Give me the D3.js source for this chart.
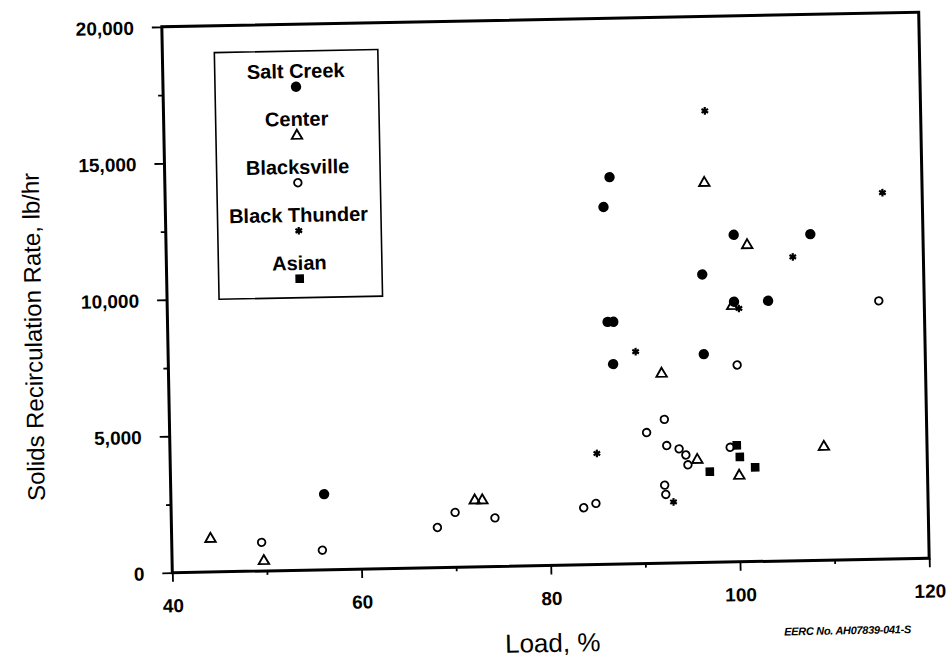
<!DOCTYPE html>
<html>
<head>
<meta charset="utf-8">
<script src="https://cdn.jsdelivr.net/npm/d3@7"></script>
<style>
  body { margin: 0; background: #fff; }
  svg { display: block; }
  text { font-family: "Liberation Sans", Arial, Helvetica, sans-serif; fill: #000; }
</style>
</head>
<body>
<svg id="chart" width="949" height="662"></svg>
<script>
// Axis ticks
const xTicks = [40, 60, 80, 100, 120];
const xMinorTicks = [50, 70, 90, 110];
const yTicks = [0, 5000, 10000, 15000, 20000];
const yMinorTicks = [2500, 7500, 12500, 17500];

// Load (%) vs. solids recirculation rate (lb/hr) by coal
const seriesNames = ["Salt Creek", "Center", "Blacksville", "Black Thunder", "Asian"];
const saltCreek = [[87.0, 14180], [86.3, 13090], [100.0, 11980], [108.1, 11950], [96.6, 10550],
  [99.9, 9530], [103.5, 9540], [86.5, 8880], [87.1, 8880], [87.0, 7330], [96.6, 7630], [56.2, 2770]];
const center = [[97.0, 13940], [101.4, 11630], [99.7, 9410], [92.1, 6980], [95.7, 3800],
  [100.1, 3190], [109.1, 4190], [44.1, 1250], [49.7, 400], [72.1, 2470], [72.9, 2470]];
const blacksville = [[115.2, 9460], [100.1, 7210], [92.3, 5270], [90.4, 4800], [92.5, 4310],
  [93.8, 4180], [94.5, 3950], [94.7, 3590], [99.2, 4200], [92.2, 2860], [92.3, 2520],
  [83.6, 2090], [84.9, 2240], [74.2, 1780], [70.0, 2010], [68.1, 1470], [55.9, 720], [49.5, 1050]];
const blackThunder = [[97.2, 16540], [115.8, 13420], [106.2, 11130], [100.4, 9280],
  [89.4, 7770], [85.1, 4070], [93.1, 2240]];
const asian = [[99.9, 4270], [100.2, 3840], [97.0, 3320], [101.8, 3450]];

const series = [
  { name: seriesNames[0], type: "dot", data: saltCreek },
  { name: seriesNames[1], type: "triangle", data: center },
  { name: seriesNames[2], type: "ring", data: blacksville },
  { name: seriesNames[3], type: "star", data: blackThunder },
  { name: seriesNames[4], type: "square", data: asian }
];

const plot = { left: 167, right: 924, top: 19.5, bottom: 565.5 };
const cx = (plot.left + plot.right) / 2, cy = (plot.top + plot.bottom) / 2;

const svg = d3.select("#chart");
const g = svg.append("g").attr("transform", `rotate(-1.1 ${cx} ${cy})`);

const x = d3.scaleLinear().domain([40, 120]).range([plot.left, plot.right]);
const y = d3.scaleLinear().domain([0, 20000]).range([plot.bottom, plot.top]);

function styleAxis(sel) {
  sel.select(".domain").remove();
  sel.selectAll(".tick line").attr("stroke", "#000").attr("stroke-width", 1.8);
}

// minor ticks
g.append("g").attr("transform", `translate(0,${plot.bottom})`)
  .call(d3.axisBottom(x).tickValues(xMinorTicks).tickSize(4).tickFormat(""))
  .call(styleAxis);
g.append("g").attr("transform", `translate(${plot.left},0)`)
  .call(d3.axisLeft(y).tickValues(yMinorTicks).tickSize(5).tickFormat(""))
  .call(styleAxis);

// major ticks with labels
const xAxis = g.append("g").attr("transform", `translate(0,${plot.bottom})`)
  .call(d3.axisBottom(x).tickValues(xTicks).tickSize(9).tickFormat(d3.format("d")))
  .call(styleAxis);
xAxis.selectAll(".tick text")
  .attr("y", 39.5).attr("dy", 0)
  .style("font-size", "19px").style("font-weight", "bold")
  .attr("fill", "#000");

const yAxis = g.append("g").attr("transform", `translate(${plot.left},0)`)
  .call(d3.axisLeft(y).tickValues(yTicks).tickSize(10).tickPadding(18).tickFormat(d3.format(",")))
  .call(styleAxis);
yAxis.selectAll(".tick text")
  .attr("dy", "0.36em")
  .style("font-size", "19px").style("font-weight", "bold")
  .attr("fill", "#000");

// plot frame
g.append("rect")
  .attr("x", plot.left).attr("y", plot.top)
  .attr("width", plot.right - plot.left).attr("height", plot.bottom - plot.top)
  .attr("fill", "none").attr("stroke", "#000").attr("stroke-width", 3);

// marker shapes
function drawMarker(sel, type) {
  if (type === "dot") {
    sel.append("circle").attr("r", 5.2).attr("fill", "#000");
  } else if (type === "ring") {
    sel.append("circle").attr("r", 3.8).attr("fill", "none").attr("stroke", "#000").attr("stroke-width", 1.8);
  } else if (type === "triangle") {
    sel.append("path").attr("d", "M0,-5 L5.2,4 L-5.2,4 Z")
      .attr("fill", "none").attr("stroke", "#000").attr("stroke-width", 1.9).attr("stroke-linejoin", "miter");
  } else if (type === "square") {
    sel.append("rect").attr("x", -4.3).attr("y", -4.3).attr("width", 8.6).attr("height", 8.6).attr("fill", "#000");
  } else if (type === "star") {
    sel.append("path").attr("d", d3.symbol().type(d3.symbolAsterisk).size(40)())
      .attr("fill", "none").attr("stroke", "#000").attr("stroke-width", 2.2);
  }
}

series.forEach(s => {
  g.append("g").selectAll("g")
    .data(s.data)
    .join("g")
    .attr("transform", d => `translate(${x(d[0])},${y(d[1])})`)
    .each(function () { drawMarker(d3.select(this), s.type); });
});

// legend
const legend = g.append("g");
legend.append("rect")
  .attr("x", 219).attr("y", 46.3).attr("width", 163.5).attr("height", 246.7)
  .attr("fill", "#fff").attr("stroke", "#000").attr("stroke-width", 1.6);
series.forEach((s, i) => {
  legend.append("text")
    .attr("x", 300).attr("y", 73.2 + 48 * i)
    .attr("text-anchor", "middle")
    .style("font-size", "20px").style("font-weight", "bold")
    .text(s.name);
  const m = legend.append("g").attr("transform", `translate(300,${82 + 48 * i})`);
  drawMarker(m, s.type);
});

// axis titles
g.append("text")
  .attr("transform", "translate(41,327) rotate(-90)")
  .attr("text-anchor", "middle")
  .style("font-size", "24px")
  .text("Solids Recirculation Rate, lb/hr");
g.append("text")
  .attr("x", 546).attr("y", 652)
  .attr("text-anchor", "middle")
  .style("font-size", "26px")
  .text("Load, %");

// drawing number
g.append("text")
  .attr("x", 841).attr("y", 640)
  .attr("text-anchor", "middle")
  .style("font-size", "11px").style("font-weight", "bold").style("font-style", "italic")
  .style("letter-spacing", "-0.3px")
  .text("EERC No. AH07839-041-S");
</script>
</body>
</html>
